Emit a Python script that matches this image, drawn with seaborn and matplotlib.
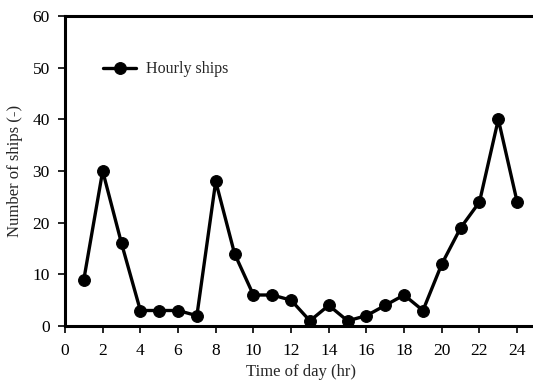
import matplotlib
matplotlib.use("Agg")
import matplotlib.pyplot as plt
import seaborn as sns
import pandas as pd

hours = list(range(1, 25))
ships = [9, 30, 16, 3, 3, 3, 2, 28, 14, 6, 6, 5, 1, 4, 1, 2, 4, 6, 3, 12, 19, 24, 40, 24]
x_ticks = list(range(0, 25, 2))
y_ticks = list(range(0, 61, 10))

df = pd.DataFrame({"hour": hours, "ships": ships})

sns.set_style("white")
plt.rcParams["font.family"] = ["Liberation Serif", "DejaVu Serif"]
plt.rcParams["font.size"] = 12

fig = plt.figure(figsize=(5.33, 3.82), dpi=100)
ax = fig.add_axes([65 / 533, 1 - 326 / 382, (536 - 65) / 533, (326 - 16) / 382])

sns.lineplot(data=df, x="hour", y="ships", ax=ax, color="black", linewidth=2.4,
             marker="o", markersize=8.5, markeredgecolor="black",
             label="Hourly ships")

ax.set_xlim(0, 25)
ax.set_ylim(0, 60)
ax.set_xticks(x_ticks)
ax.set_yticks(y_ticks)
ax.set_xlabel("Time of day (hr)", fontsize=12, labelpad=4)
ax.set_ylabel("Number of ships (-)", fontsize=12, labelpad=7)

for side in ["left", "bottom", "top"]:
    ax.spines[side].set_linewidth(2.2)
    ax.spines[side].set_color("black")
ax.spines["right"].set_linewidth(1.0)
ax.spines["right"].set_color("#cccccc")

ax.tick_params(axis="both", direction="out", length=5, width=1.2, colors="black",
               labelsize=12.5, bottom=True, left=True)
ax.tick_params(axis="x", pad=7)
ax.tick_params(axis="y", pad=6)

leg = ax.legend(loc="upper left", bbox_to_anchor=(0.05, 0.9), frameon=False,
                fontsize=11.5, handlelength=2.1, handletextpad=0.6)

fig.savefig("out.png", dpi=100)
